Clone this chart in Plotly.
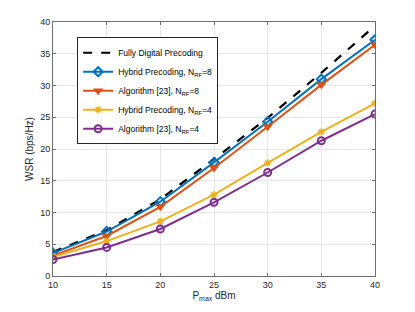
import plotly.graph_objects as go

pmax = [10, 15, 20, 25, 30, 35, 40]
fully_digital = [3.8, 7.2, 12.1, 18.4, 24.9, 32.0, 39.4]
hybrid_8 = [3.6, 7.0, 11.7, 17.9, 24.3, 31.0, 37.2]
alg_8 = [3.2, 6.3, 10.9, 17.0, 23.5, 30.1, 36.4]
hybrid_4 = [3.0, 5.5, 8.6, 12.8, 17.8, 22.7, 27.2]
alg_4 = [2.6, 4.5, 7.4, 11.6, 16.3, 21.3, 25.5]

names = ["Fully Digital Precoding",
         "Hybrid Precoding, N<sub>RF</sub>=8",
         "Algorithm [23], N<sub>RF</sub>=8",
         "Hybrid Precoding, N<sub>RF</sub>=4",
         "Algorithm [23], N<sub>RF</sub>=4"]

fig = go.Figure()
fig.add_trace(go.Scatter(x=pmax, y=fully_digital, name=names[0], mode="lines",
                         line=dict(color="black", width=2.2, dash="dash")))
fig.add_trace(go.Scatter(x=pmax, y=hybrid_8, name=names[1], mode="lines+markers",
                         line=dict(color="#0072BD", width=2),
                         marker=dict(symbol="diamond-open", size=7, color="#0072BD", line=dict(width=2))))
fig.add_trace(go.Scatter(x=pmax, y=alg_8, name=names[2], mode="lines+markers",
                         line=dict(color="#D95319", width=2),
                         marker=dict(symbol="triangle-down", size=9, color="#D95319")))
fig.add_trace(go.Scatter(x=pmax, y=hybrid_4, name=names[3], mode="lines+markers",
                         line=dict(color="#EDB120", width=2),
                         marker=dict(symbol="asterisk-open", size=6, color="#EDB120", line=dict(width=1.5, color="#EDB120"))))
fig.add_trace(go.Scatter(x=pmax, y=alg_4, name=names[4], mode="lines+markers",
                         line=dict(color="#7E2F8E", width=2),
                         marker=dict(symbol="circle-open", size=7, color="#7E2F8E", line=dict(width=2))))

axis_common = dict(showgrid=True, gridcolor="#e6e6e6", gridwidth=1,
                   showline=True, linecolor="#6e6e6e", linewidth=1, mirror="ticks",
                   ticks="inside", ticklen=3, tickcolor="#6e6e6e",
                   tickfont=dict(size=9, color="#262626"), zeroline=False,
                   automargin=False)

fig.update_layout(
    width=407, height=304,
    margin=dict(l=45, r=40, t=14, b=36),
    paper_bgcolor="white", plot_bgcolor="white",
    font=dict(family="Liberation Sans, Arial, sans-serif", color="#262626"),
    xaxis=dict(range=[10, 40], tickvals=[10, 15, 20, 25, 30, 35, 40],
               title=dict(text="P<sub>max</sub> dBm", font=dict(size=10), standoff=2), **axis_common),
    yaxis=dict(range=[0, 40], tickvals=[0, 5, 10, 15, 20, 25, 30, 35, 40],
               title=dict(text="WSR (bps/Hz)", font=dict(size=10), standoff=4), **axis_common),
    legend=dict(x=0.075, y=0.94, xanchor="left", yanchor="top",
                bgcolor="white", bordercolor="#262626", borderwidth=1,
                font=dict(size=8.5, color="black"), tracegroupgap=0, itemwidth=30),
    showlegend=True,
)

fig.write_html("out.html")
